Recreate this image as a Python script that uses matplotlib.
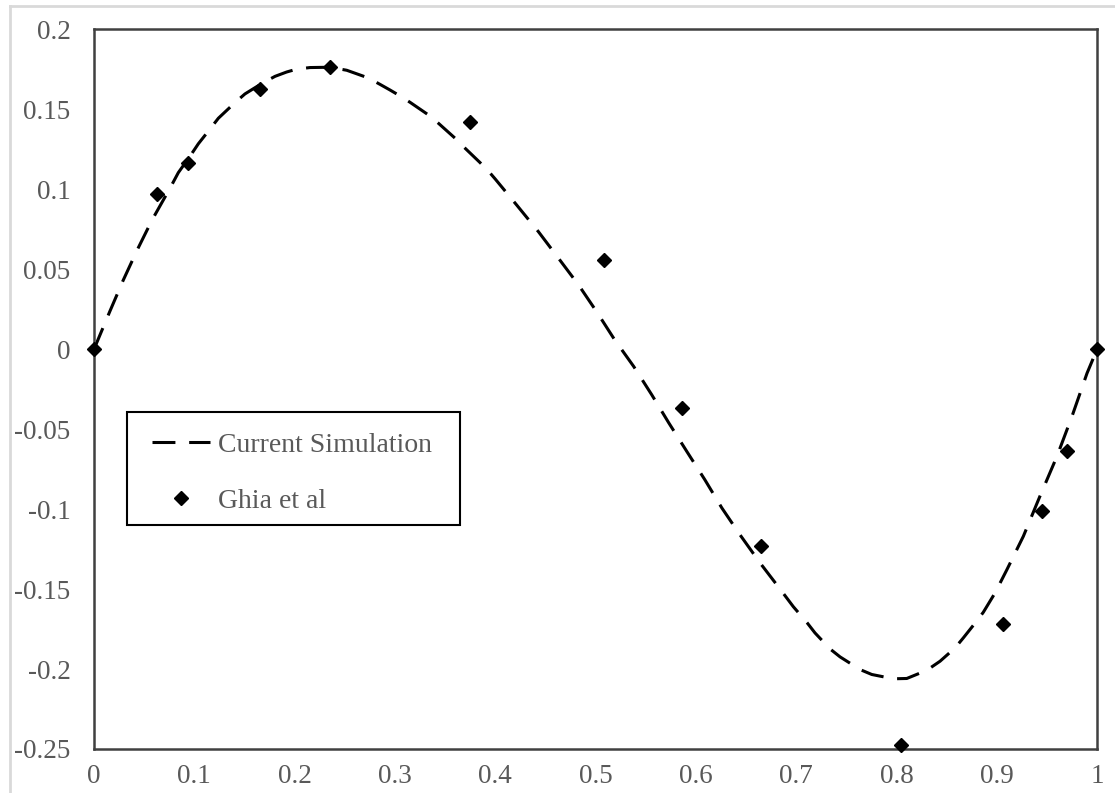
import matplotlib
matplotlib.use("Agg")
import matplotlib.pyplot as plt
from matplotlib.lines import Line2D
from matplotlib.patches import Rectangle

# simulated v-velocity along the horizontal centreline
simX = [0.0, 0.016, 0.029, 0.043, 0.058, 0.076, 0.0841, 0.096, 0.104, 0.1157, 0.124,
        0.1406, 0.1505, 0.1672, 0.1805, 0.192, 0.202, 0.2153, 0.2353, 0.252, 0.2735,
        0.2851, 0.295, 0.305, 0.315, 0.335, 0.3433, 0.36, 0.3682, 0.3848, 0.393,
        0.4, 0.4213, 0.443, 0.463, 0.483, 0.501, 0.519, 0.538, 0.556, 0.573,
        0.591, 0.609, 0.626, 0.644, 0.664, 0.684, 0.6972, 0.711, 0.7188, 0.7338,
        0.7438, 0.7637, 0.7754, 0.797, 0.8103, 0.8302, 0.8435, 0.8584, 0.8667, 0.88,
        0.8866, 0.8983, 0.910, 0.9265, 0.943, 0.960, 0.975, 0.990, 1.0]
simY = [0.0, 0.024, 0.043, 0.062, 0.081, 0.101, 0.1105, 0.121, 0.1285, 0.1378, 0.1445,
        0.1543, 0.1597, 0.1662, 0.1707, 0.1734, 0.1752, 0.1762, 0.1764, 0.1745, 0.1697,
        0.1657, 0.1622, 0.1585, 0.1545, 0.1459, 0.1414, 0.132, 0.1268, 0.1168, 0.1116,
        0.1065, 0.0903, 0.0736, 0.057, 0.0403, 0.0236, 0.006, -0.0107, -0.0284, -0.046,
        -0.0639, -0.0816, -0.0993, -0.116, -0.1336, -0.150, -0.161, -0.1711, -0.1774, -0.1874,
        -0.1924, -0.2003, -0.2034, -0.2061, -0.2059, -0.2008, -0.1951, -0.1868, -0.1805, -0.170,
        -0.1645, -0.1524, -0.138, -0.117, -0.092, -0.067, -0.042, -0.015, 0.0]

# Ghia et al reference points
ghiaX = [0.0, 0.0625, 0.094, 0.1655, 0.2353, 0.375, 0.508, 0.586, 0.665, 0.805,
         0.9066, 0.9455, 0.9698, 1.0]
ghiaY = [0.0, 0.097, 0.1164, 0.1626, 0.1764, 0.142, 0.0559, -0.0368, -0.1228, -0.2472,
         -0.1718, -0.101, -0.0639, 0.0]

xticks = [0, 0.1, 0.2, 0.3, 0.4, 0.5, 0.6, 0.7, 0.8, 0.9, 1]
yticks = [-0.25, -0.2, -0.15, -0.1, -0.05, 0, 0.05, 0.1, 0.15, 0.2]

plt.rcParams["font.family"] = ["Liberation Serif", "DejaVu Serif"]
textColor = "#595959"

fig = plt.figure(figsize=(11.15, 7.93), dpi=100)
ax = fig.add_axes([0.0843, 0.0555, 0.8996, 0.9073])

# light outer chart border
fig.add_artist(Line2D([10 / 1115, 10 / 1115], [0, 1 - 6 / 793], transform=fig.transFigure,
                      color="#d9d9d9", lw=2))
fig.add_artist(Line2D([10 / 1115, 1], [1 - 6 / 793, 1 - 6 / 793], transform=fig.transFigure,
                      color="#d9d9d9", lw=2))

ax.plot(simX, simY, color="black", lw=2.2, linestyle=(0, (7.5, 4.5)), label="Current Simulation")
ax.plot(ghiaX, ghiaY, linestyle="none", marker="D", markersize=7.5, color="black",
        label="Ghia et al", clip_on=False, zorder=5)

ax.set_xlim(0, 1)
ax.set_ylim(-0.25, 0.2)
ax.set_xticks(xticks)
ax.set_xticklabels(["{:g}".format(v) for v in xticks])
ax.set_yticks(yticks)
ax.set_yticklabels(["{:g}".format(v) for v in yticks])
ax.tick_params(length=0, labelsize=19.5, labelcolor=textColor)
ax.tick_params(axis="y", pad=17)
ax.tick_params(axis="x", pad=11)
for s in ax.spines.values():
    s.set_color("#404040")
    s.set_linewidth(1.8)

# legend box drawn separately so its size matches the original
ax.add_patch(Rectangle((0.0326, 0.3113), 0.3324, 0.1575, transform=ax.transAxes,
                       facecolor="white", edgecolor="black", lw=1.5, zorder=6))
leg = ax.legend(loc="center left", bbox_to_anchor=(0.0575, 0.3833), borderaxespad=0,
                fontsize=20, frameon=False, numpoints=1, borderpad=0,
                handlelength=2.1, handletextpad=0.3, labelspacing=1.08)
leg.set_zorder(7)
for t in leg.get_texts():
    t.set_color(textColor)

fig.savefig("out.png", dpi=100)
